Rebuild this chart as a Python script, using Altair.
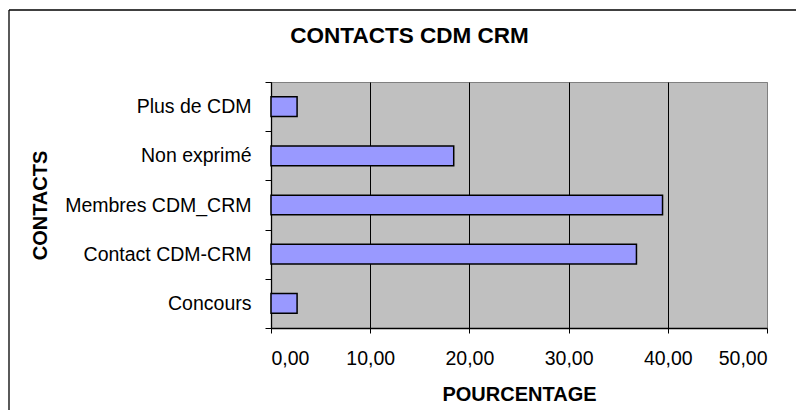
import altair as alt
import pandas as pd

categories = ["Plus de CDM", "Non exprimé", "Membres CDM_CRM", "Contact CDM-CRM", "Concours"]
values = [2.63, 18.42, 39.47, 36.84, 2.63]
x_ticks = [0, 10, 20, 30, 40, 50]

df = pd.DataFrame({"contact": categories, "pct": values})

FONT = "Liberation Sans"

bars = alt.Chart(df).mark_bar(
    fill="#9999FF", stroke="black", strokeWidth=1.5,
    height=alt.RelativeBandSize(0.4),
).encode(
    x=alt.X(
        "pct:Q",
        scale=alt.Scale(domain=[0, 50], nice=False, zero=True),
        axis=alt.Axis(
            title="POURCENTAGE",
            values=x_ticks,
            labelExpr="replace(format(datum.value, '.2f'), '.', ',')",
            grid=True,
            gridColor=alt.condition("datum.value === 50", alt.value("#808080"), alt.value("black")),
            gridWidth=1,
            domainColor="black",
            domainWidth=1.3,
            tickColor="black",
            tickSize=5,
            labelPadding=16,
            labelFontSize=19.5,
            labelFont=FONT,
            labelColor="black",
            titleFont=FONT,
            titleFontSize=20,
            titleFontWeight="bold",
            titleColor="black",
            titleBaseline="alphabetic",
            titleY=72,
        ),
    ),
    y=alt.Y(
        "contact:N",
        sort=None,
        scale=alt.Scale(paddingInner=0, paddingOuter=0),
        axis=alt.Axis(
            title="CONTACTS",
            tickBand="extent",
            grid=False,
            domainColor="black",
            domainWidth=1.3,
            tickColor="black",
            tickSize=6,
            labelPadding=14,
            labelLimit=400,
            labelFontSize=19.5,
            labelFont=FONT,
            labelColor="black",
            titleFont=FONT,
            titleFontSize=20,
            titleFontWeight="bold",
            titleColor="black",
            titleBaseline="middle",
            titleAlign="center",
            titleAngle=270,
            titleX=-231,
            titleY=123,
        ),
    ),
)

frame_df = pd.DataFrame({"k": [0]})
frame_top = alt.Chart(frame_df).mark_rule(color="black", strokeWidth=1.3).encode(
    x=alt.value(-262), x2=alt.value(530), y=alt.value(-72)
)
frame_left = alt.Chart(frame_df).mark_rule(color="black", strokeWidth=1.3).encode(
    x=alt.value(-262), y=alt.value(-72), y2=alt.value(330)
)

chart = alt.layer(bars, frame_top, frame_left).properties(
    width=496,
    height=246,
    padding={"left": 263, "top": 74, "right": 29, "bottom": 82},
    autosize=alt.AutoSizeParams(type="none"),
    background="white",
    title=alt.TitleParams(
        text="CONTACTS CDM CRM",
        font=FONT,
        fontSize=22.5,
        fontWeight="bold",
        color="black",
        anchor="middle",
        frame="group",
        baseline="alphabetic",
        offset=-56.6,
        dx=-109.5,
    ),
).configure_view(
    fill="#C0C0C0", stroke="#808080", strokeWidth=1
)

chart.save("out.html", embed_options={"renderer": "svg", "actions": False})
